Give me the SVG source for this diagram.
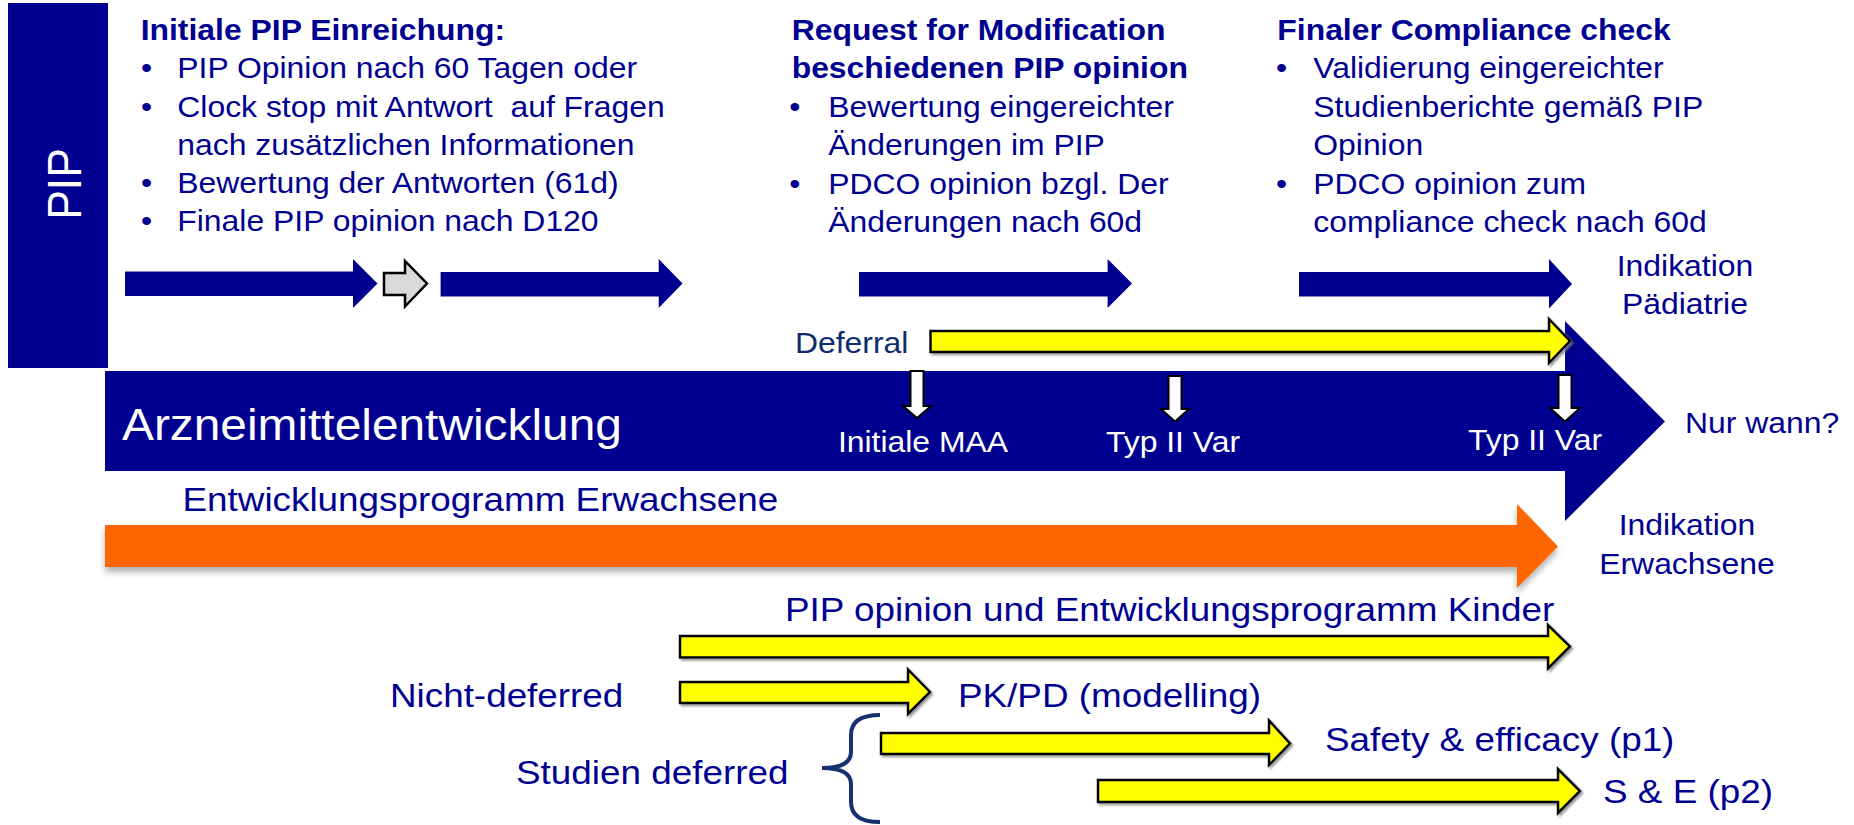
<svg xmlns="http://www.w3.org/2000/svg" width="1854" height="825" viewBox="0 0 1854 825">
  <defs>
    <filter id="ySh" x="-5%" y="-30%" width="110%" height="170%">
      <feDropShadow dx="2" dy="2" stdDeviation="0.8" flood-color="#808080" flood-opacity="0.8"/>
    </filter>
    <filter id="oSh" x="-5%" y="-30%" width="110%" height="170%">
      <feDropShadow dx="0" dy="5" stdDeviation="3" flood-color="#000000" flood-opacity="0.3"/>
    </filter>
  </defs>
  <style>
    text { font-family: "Liberation Sans", Arial, sans-serif; }
    .wt { fill: #ffffff; }
    .b { font-weight: bold; font-size: 29px; fill: #000090; }
    .r { font-size: 29px; fill: #000090; }
    .lo { font-size: 33.5px; fill: #000090; }
    .md { text-anchor: middle; }
    .blue { fill: #000090; }
    .yel { fill: #ffff00; stroke: #000000; stroke-width: 2.5; stroke-linejoin: miter; filter: url(#ySh); }
    .grey { fill: #d9d9d9; stroke: #000000; stroke-width: 2.5; }
    .ms { fill: #ffffff; stroke: #000000; stroke-width: 2; }
  </style>
  <rect width="1854" height="825" fill="#ffffff"/>

  <g id="pip-box">
    <rect x="8" y="3" width="100" height="365" class="blue"/>
    <text transform="translate(80.5 184) scale(1.1 1) rotate(-90)" x="0" y="0" class="wt md" font-size="44.5">PIP</text>
  </g>

  <g id="col-initial" transform="scale(1.1 1)">
    <text x="127.9" y="40" class="b">Initiale PIP Einreichung:</text>
    <text x="128.2" y="78" class="r">•</text>
    <text x="161.2" y="78" class="r">PIP Opinion nach 60 Tagen oder</text>
    <text x="128.2" y="117" class="r">•</text>
    <text x="161.2" y="117" class="r" xml:space="preserve">Clock stop mit Antwort  auf Fragen</text>
    <text x="161.2" y="155" class="r">nach zusätzlichen Informationen</text>
    <text x="128.2" y="193" class="r">•</text>
    <text x="161.2" y="193" class="r">Bewertung der Antworten (61d)</text>
    <text x="128.2" y="231" class="r">•</text>
    <text x="161.2" y="231" class="r">Finale PIP opinion nach D120</text>
  </g>

  <g id="col-modification" transform="scale(1.1 1)">
    <text x="719.7" y="40" class="b">Request for Modification</text>
    <text x="719.7" y="78" class="b">beschiedenen PIP opinion</text>
    <text x="717.6" y="117" class="r">•</text>
    <text x="753" y="117" class="r">Bewertung eingereichter</text>
    <text x="753" y="155" class="r">Änderungen im PIP</text>
    <text x="717.6" y="194" class="r">•</text>
    <text x="753" y="194" class="r">PDCO opinion bzgl. Der</text>
    <text x="753" y="232" class="r">Änderungen nach 60d</text>
  </g>

  <g id="col-compliance" transform="scale(1.1 1)">
    <text x="1161.2" y="40" class="b">Finaler Compliance check</text>
    <text x="1160" y="78" class="r">•</text>
    <text x="1193.9" y="78" class="r">Validierung eingereichter</text>
    <text x="1193.9" y="117" class="r">Studienberichte gemäß PIP</text>
    <text x="1193.9" y="155" class="r">Opinion</text>
    <text x="1160" y="194" class="r">•</text>
    <text x="1193.9" y="194" class="r">PDCO opinion zum</text>
    <text x="1193.9" y="232" class="r">compliance check nach 60d</text>
  </g>

  <g id="pip-steps">
    <polygon class="blue" points="125,271.5 353,271.5 353,259 377.5,283.5 353,308 353,296 125,296"/>
    <polygon class="grey" points="384,273 405,273 405,261 427,283.5 405,306.5 405,295 384,295"/>
    <polygon class="blue" points="440.6,272 658.7,272 658.7,259 682.5,283.5 658.7,308 658.7,296.5 440.6,296.5"/>
    <polygon class="blue" points="859,272 1107.6,272 1107.6,259 1132,283.5 1107.6,308 1107.6,296.5 859,296.5"/>
    <polygon class="blue" points="1299,272 1549,272 1549,259 1572,284 1549,308.5 1549,296.5 1299,296.5"/>
  </g>

  <g id="indikation-paediatrie" transform="scale(1.1 1)">
    <text x="1531.8" y="276" class="r md">Indikation</text>
    <text x="1531.8" y="314" class="r md">Pädiatrie</text>
  </g>

  <g id="arzneimittelentwicklung">
    <polygon class="blue" points="105,371 1565,371 1565,321 1665,421.5 1565,521 1565,471 105,471"/>
    <g transform="scale(1.1 1)">
      <text x="110.9" y="440" class="wt" font-size="43.5">Arzneimittelentwicklung</text>
    </g>
  </g>

  <g id="deferral">
    <polygon class="yel" points="930.5,331 1549,331 1549,319 1570,341 1549,363 1549,352 930.5,352"/>
    <g transform="scale(1.1 1)">
      <text x="722.7" y="353" font-size="29" fill="#0f2d6e">Deferral</text>
    </g>
  </g>

  <g id="milestone-maa">
    <polygon class="ms" points="910.5,371 923.5,371 923.5,406 931,406 917,418 903,406 910.5,406"/>
    <g transform="scale(1.1 1)">
      <text x="839.1" y="452" class="wt md" font-size="29">Initiale MAA</text>
    </g>
  </g>
  <g id="milestone-var1">
    <polygon class="ms" points="1168.5,376 1181.5,376 1181.5,409 1189,409 1175,421.5 1161,409 1168.5,409"/>
    <g transform="scale(1.1 1)">
      <text x="1066.4" y="452" class="wt md" font-size="29">Typ II Var</text>
    </g>
  </g>
  <g id="milestone-var2">
    <polygon class="ms" points="1558.5,375 1571.5,375 1571.5,408 1580,408 1565,421.5 1550,408 1558.5,408"/>
    <g transform="scale(1.1 1)">
      <text x="1395.5" y="450" class="wt md" font-size="29">Typ II Var</text>
    </g>
  </g>

  <g id="nur-wann" transform="scale(1.1 1)">
    <text x="1531.8" y="433" class="r">Nur wann?</text>
  </g>

  <g id="erwachsene">
    <polygon fill="#ff6600" filter="url(#oSh)" points="105,525 1517,525 1517,504 1558,546.5 1517,588 1517,567 105,567"/>
    <g transform="scale(1.1 1)">
      <text x="165.9" y="511" class="lo">Entwicklungsprogramm Erwachsene</text>
    </g>
  </g>

  <g id="indikation-erwachsene" transform="scale(1.1 1)">
    <text x="1533.6" y="535" class="r md">Indikation</text>
    <text x="1533.6" y="574" class="r md">Erwachsene</text>
  </g>

  <g id="kinder">
    <polygon class="yel" points="680,636 1548,636 1548,625 1570,646.5 1548,668.5 1548,657.5 680,657.5"/>
    <g transform="scale(1.1 1)">
      <text x="713.6" y="621" class="lo" font-size="34">PIP opinion und Entwicklungsprogramm Kinder</text>
    </g>
  </g>

  <g id="nicht-deferred">
    <polygon class="yel" points="680,682 908,682 908,669.5 930,692 908,714 908,703 680,703"/>
    <g transform="scale(1.1 1)">
      <text x="354.5" y="707" class="lo">Nicht-deferred</text>
      <text x="870.9" y="707" class="lo">PK/PD (modelling)</text>
    </g>
  </g>

  <g id="studien-deferred">
    <path d="M880,715 Q851,715 851,735 L851,752 Q851,768 822,768 Q851,768 851,784 L851,802 Q851,822 880,822" fill="none" stroke="#17306f" stroke-width="4"/>
    <g transform="scale(1.1 1)">
      <text x="469.1" y="784" class="lo" font-size="33">Studien deferred</text>
    </g>
  </g>

  <g id="safety-p1">
    <polygon class="yel" points="881,733 1269,733 1269,720.5 1290,743.5 1269,765 1269,754 881,754"/>
    <g transform="scale(1.1 1)">
      <text x="1204.5" y="751" class="lo" font-size="32.5">Safety &amp; efficacy (p1)</text>
    </g>
  </g>

  <g id="se-p2">
    <polygon class="yel" points="1098,780 1558,780 1558,769 1580,791 1558,813 1558,802 1098,802"/>
    <g transform="scale(1.1 1)">
      <text x="1457.3" y="803" class="lo" font-size="34">S &amp; E (p2)</text>
    </g>
  </g>
</svg>
